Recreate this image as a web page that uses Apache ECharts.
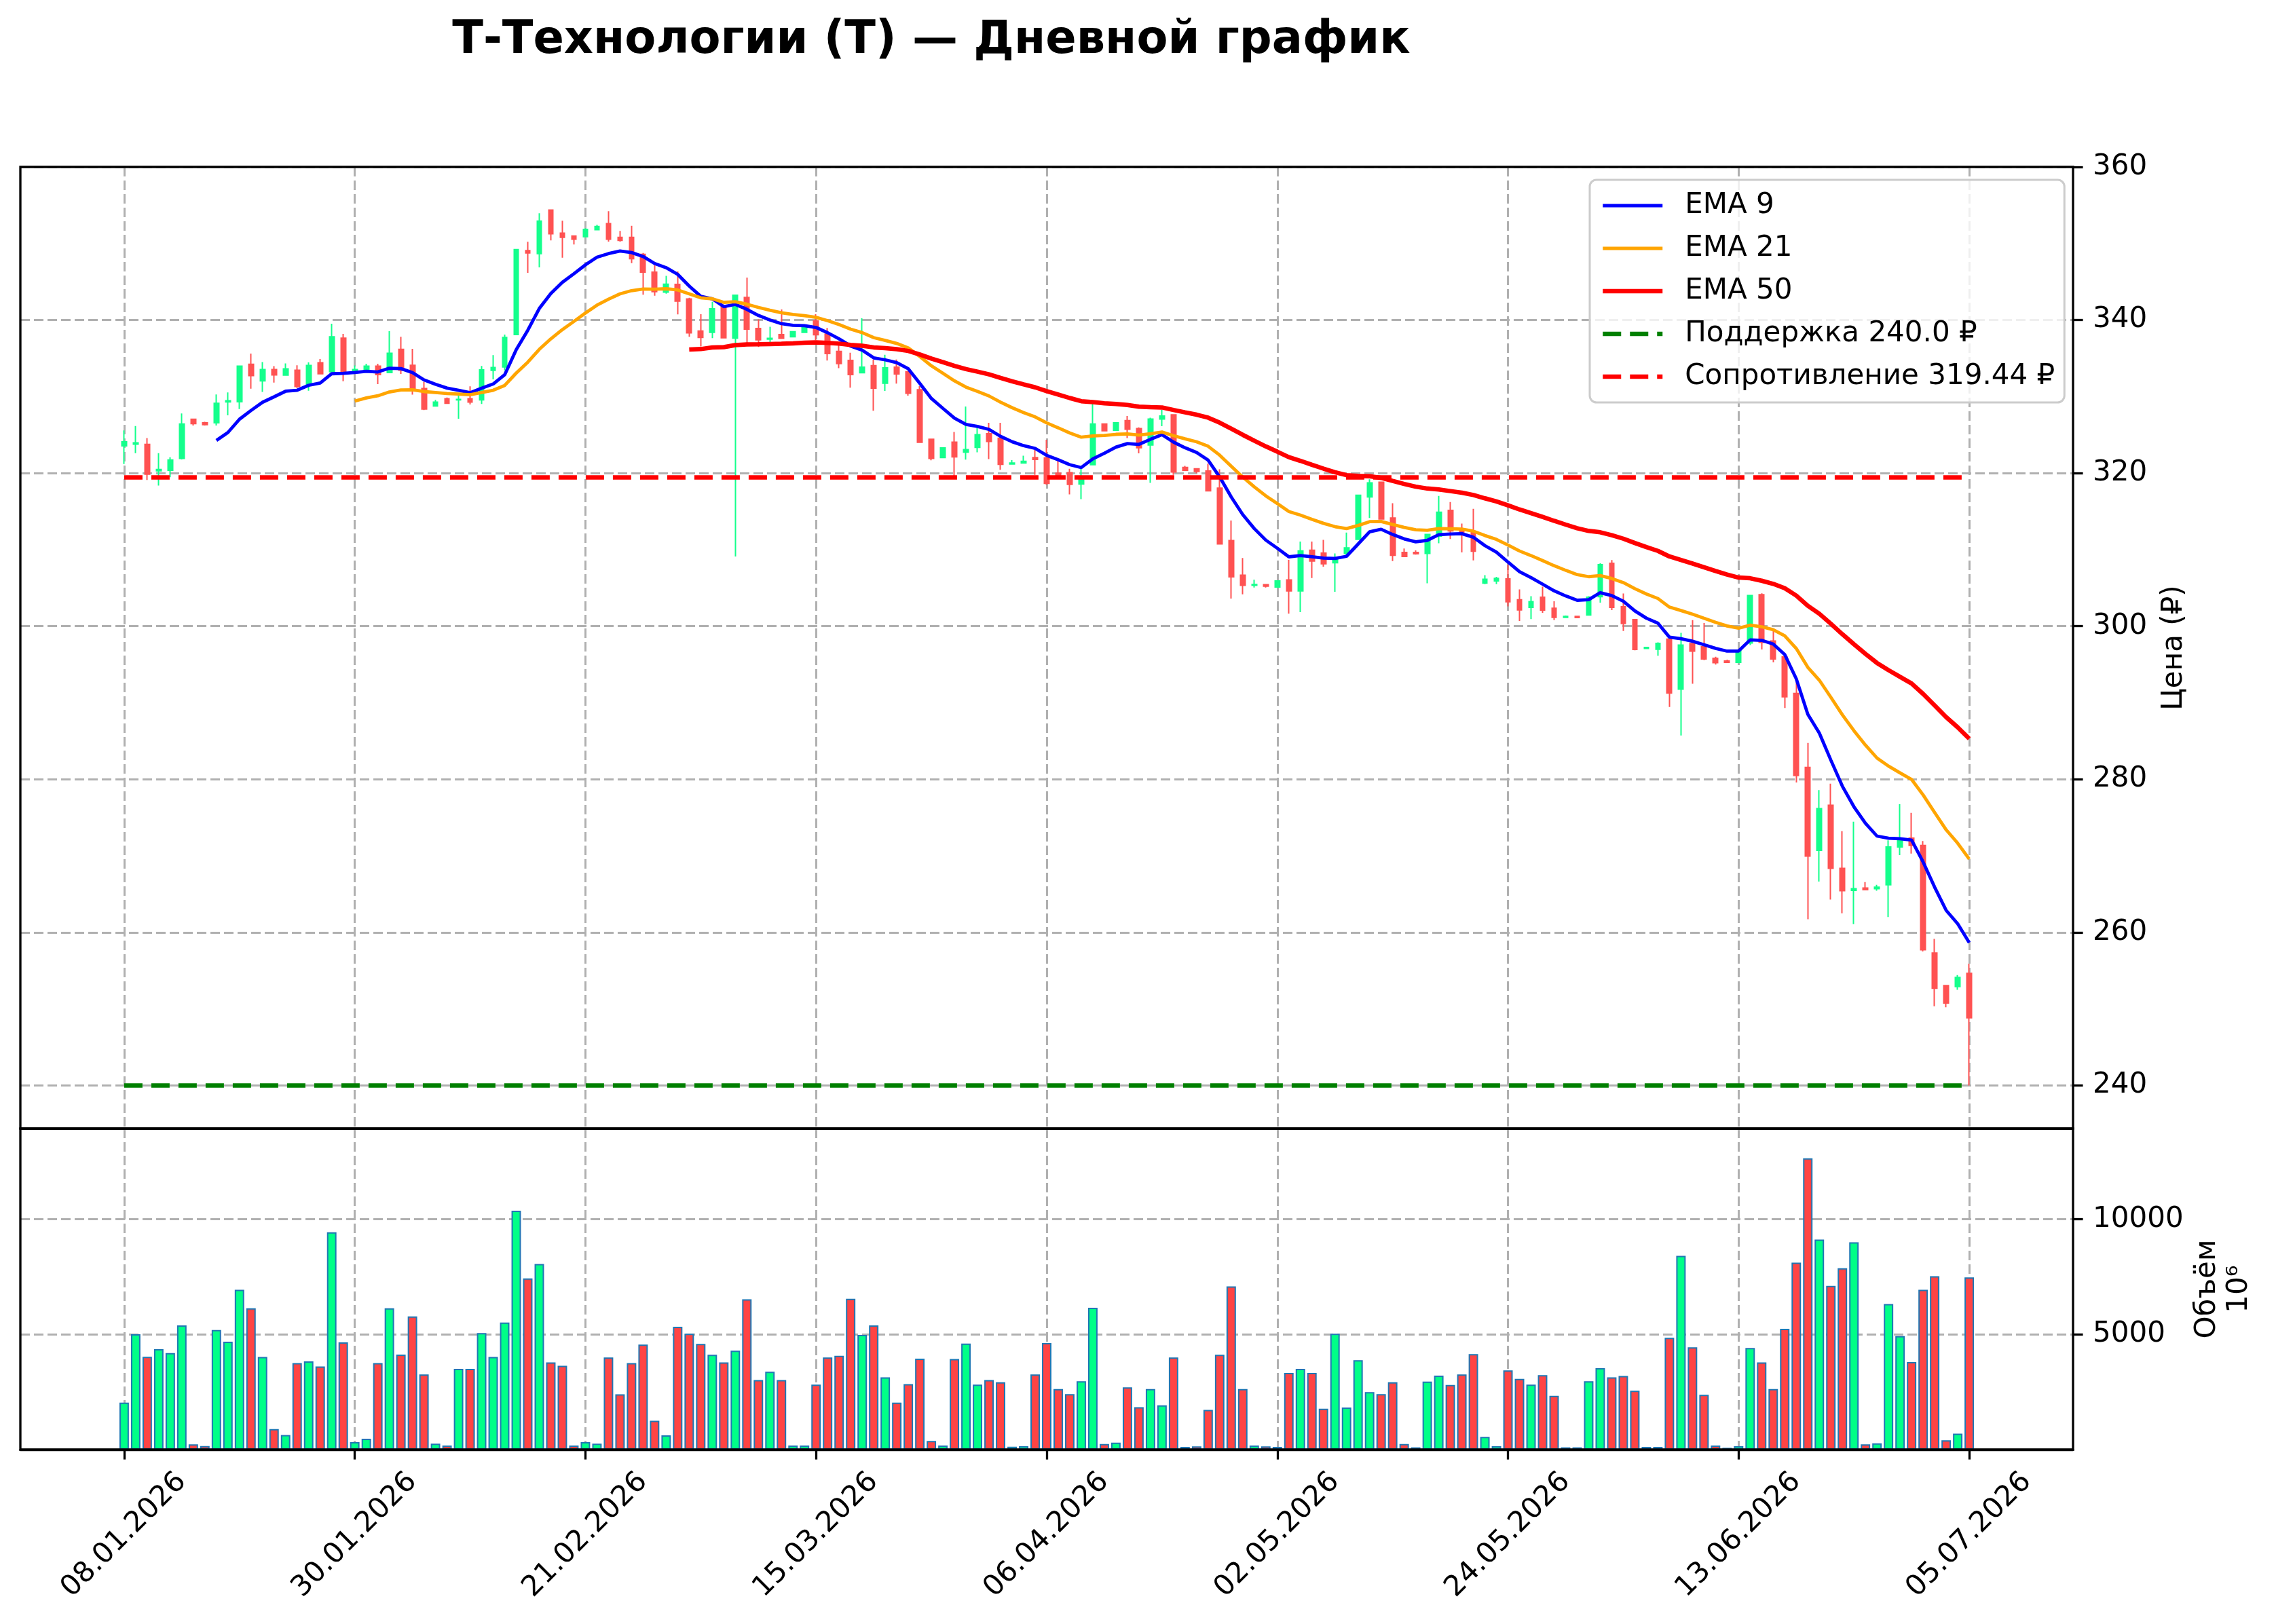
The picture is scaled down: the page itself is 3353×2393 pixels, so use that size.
<!DOCTYPE html>
<html>
<head>
<meta charset="utf-8">
<title>Т-Технологии (T) — Дневной график</title>
<script src="https://cdn.jsdelivr.net/npm/echarts@6/dist/echarts.min.js"></script>
<style>
  html, body { margin: 0; padding: 0; background: #fff; }
  #chart { width: 3353px; height: 2393px; }
</style>
</head>
<body>
<div id="chart"></div>
<script>
// daily bars, one per trading session: [open, close, low, high]
const candles = [
  [323.56, 324.09, 321.18, 325.57], [323.79, 323.97, 322.61, 326.16], [323.76, 319.85, 319.11, 324.59],
  [320.30, 320.47, 318.37, 322.61], [320.36, 321.72, 319.47, 322.07], [321.93, 326.43, 321.78, 327.79],
  [327.05, 326.46, 326.22, 327.05], [326.58, 326.34, 326.22, 326.70], [326.58, 329.13, 326.22, 330.28],
  [329.30, 329.45, 327.56, 330.55], [329.33, 333.98, 328.36, 333.98], [334.22, 332.74, 331.02, 335.61],
  [332.06, 333.54, 330.61, 334.52], [333.54, 332.83, 331.82, 333.98], [332.80, 333.63, 332.71, 334.34],
  [333.45, 331.32, 331.11, 334.10], [331.56, 334.07, 330.76, 334.46], [334.43, 332.98, 332.89, 334.90],
  [333.24, 337.81, 333.24, 339.53], [337.63, 333.27, 332.00, 338.19], [333.33, 333.54, 333.27, 334.07],
  [333.33, 333.98, 333.27, 334.28], [333.98, 332.86, 331.64, 334.28], [333.13, 335.67, 333.13, 338.55],
  [336.18, 333.45, 332.95, 337.81], [334.10, 331.05, 330.25, 336.24], [331.05, 328.38, 328.24, 331.94],
  [328.77, 329.27, 328.68, 329.57], [329.72, 329.13, 329.04, 329.87], [329.57, 329.63, 327.11, 330.46],
  [329.72, 329.27, 328.98, 331.35], [329.57, 333.48, 329.04, 334.01], [333.42, 333.81, 332.24, 335.41],
  [333.87, 337.72, 333.42, 338.10], [338.10, 349.21, 338.10, 349.21], [349.07, 348.77, 346.16, 350.22],
  [348.68, 352.92, 346.87, 353.96], [354.37, 351.26, 350.40, 354.37], [351.35, 350.81, 348.15, 352.98],
  [350.99, 350.55, 349.87, 350.99], [350.90, 351.85, 350.90, 352.00], [351.79, 352.21, 351.79, 352.44],
  [352.59, 350.55, 350.25, 354.22], [350.81, 350.40, 350.25, 351.64], [350.81, 348.00, 347.44, 352.30],
  [348.59, 346.25, 343.32, 348.77], [346.25, 343.70, 343.17, 347.14], [343.64, 344.68, 343.44, 345.78],
  [344.67, 342.46, 340.74, 346.35], [342.75, 338.32, 337.82, 342.90], [338.56, 337.73, 336.55, 340.77],
  [338.38, 341.47, 337.64, 342.39], [341.86, 337.67, 337.67, 341.86], [337.64, 343.24, 309.10, 343.24],
  [342.95, 338.82, 336.99, 345.54], [338.91, 337.41, 336.49, 340.09], [337.50, 337.61, 336.61, 339.12],
  [338.11, 337.61, 337.61, 341.38], [337.82, 338.47, 337.73, 338.47], [338.38, 339.06, 338.38, 339.06],
  [339.88, 338.09, 337.38, 340.77], [338.17, 335.61, 334.70, 338.97], [335.91, 334.31, 333.72, 336.70],
  [334.73, 332.87, 331.16, 335.73], [333.11, 333.84, 333.02, 340.24], [334.05, 331.10, 328.16, 334.84],
  [331.75, 333.75, 330.75, 335.46], [333.84, 332.96, 331.69, 334.84], [333.25, 330.43, 330.13, 333.25],
  [330.90, 324.03, 323.94, 331.37], [324.42, 321.91, 321.68, 324.42], [322.03, 323.30, 321.97, 323.30],
  [324.05, 322.12, 319.26, 325.38], [322.75, 323.08, 321.76, 328.70], [323.37, 325.03, 322.72, 325.98],
  [325.15, 324.14, 321.84, 326.57], [324.56, 321.15, 320.44, 326.57], [321.18, 321.33, 321.18, 321.69],
  [321.33, 321.54, 321.33, 322.28], [322.04, 321.78, 319.76, 323.02], [321.98, 318.67, 318.49, 324.35],
  [320.00, 319.47, 319.47, 321.69], [320.06, 318.52, 317.22, 320.56], [318.58, 319.23, 316.60, 320.65],
  [321.10, 326.42, 321.10, 329.09], [326.42, 325.54, 325.48, 326.48], [325.59, 326.57, 325.59, 326.57],
  [326.87, 325.74, 324.59, 327.46], [325.83, 323.32, 322.58, 325.98], [323.67, 327.07, 318.73, 327.25],
  [327.07, 327.46, 326.13, 328.29], [327.61, 320.15, 319.76, 327.61], [320.74, 320.36, 320.36, 320.95],
  [320.56, 320.21, 320.00, 320.56], [320.27, 317.69, 317.69, 321.24], [318.05, 310.74, 310.74, 320.50],
  [311.19, 306.44, 303.62, 313.80], [306.68, 305.34, 304.16, 308.90], [305.34, 305.46, 305.05, 306.08],
  [305.43, 305.22, 305.05, 305.52], [305.11, 305.91, 305.11, 306.00], [306.06, 304.60, 301.63, 308.67],
  [304.60, 309.85, 301.84, 311.07], [309.94, 308.52, 306.29, 311.07], [309.56, 308.16, 307.78, 311.28],
  [308.28, 308.67, 304.51, 309.50], [309.50, 310.25, 308.96, 312.23], [311.34, 317.12, 311.34, 317.12],
  [316.88, 318.72, 314.15, 319.20], [318.81, 314.01, 314.01, 318.81], [314.15, 309.26, 308.52, 316.08],
  [309.65, 309.11, 309.11, 310.15], [309.65, 309.47, 309.35, 309.91], [309.50, 311.99, 305.61, 312.08],
  [311.78, 314.90, 310.83, 317.03], [315.13, 312.46, 311.40, 316.23], [312.61, 312.23, 309.65, 313.41],
  [312.29, 309.79, 308.61, 315.34], [305.64, 306.14, 305.49, 306.68], [305.91, 306.26, 305.49, 306.44],
  [306.18, 303.20, 302.60, 308.05], [303.45, 302.12, 300.68, 304.80], [302.45, 303.22, 300.94, 303.92],
  [303.78, 302.10, 301.75, 305.17], [302.34, 301.15, 300.80, 303.25], [301.15, 301.29, 301.12, 301.40],
  [301.29, 301.12, 301.05, 301.29], [301.47, 303.78, 301.40, 303.92], [303.85, 308.04, 303.08, 308.22],
  [308.22, 302.45, 302.10, 308.64], [302.55, 300.35, 299.37, 304.27], [300.87, 296.96, 296.85, 300.87],
  [297.10, 297.24, 297.06, 297.24], [296.99, 297.76, 296.15, 297.90], [298.32, 291.26, 289.44, 298.32],
  [291.78, 297.55, 285.73, 299.13], [297.73, 296.75, 292.48, 300.80], [297.31, 295.73, 295.56, 300.42],
  [295.80, 295.24, 295.00, 296.01], [295.45, 295.28, 295.21, 295.63], [295.28, 296.85, 295.17, 296.96],
  [297.80, 304.02, 297.55, 304.02], [304.13, 297.90, 296.96, 304.30], [298.08, 295.73, 295.28, 299.37],
  [296.00, 290.78, 289.32, 296.00], [291.23, 280.50, 279.58, 292.72], [281.55, 269.96, 261.72, 284.76],
  [270.73, 276.18, 266.65, 278.58], [276.61, 268.37, 264.29, 279.44], [268.37, 265.45, 262.49, 273.22],
  [265.49, 265.71, 261.07, 274.46], [265.79, 265.58, 265.58, 266.57], [265.71, 265.92, 265.45, 266.22],
  [266.22, 271.16, 262.02, 272.02], [271.16, 272.02, 270.09, 276.74], [272.32, 271.37, 270.30, 275.62],
  [271.37, 257.73, 257.51, 271.93], [257.30, 252.70, 250.34, 259.14], [253.05, 250.77, 250.21, 253.05],
  [252.92, 254.12, 252.49, 254.42], [254.64, 248.84, 240.00, 255.92]
]

// volume per session, shown in units of 10^6
const volumes = [
  2039, 5010, 4029, 4363, 4196, 5392, 225, 157, 5196, 4686, 6941, 6137, 4020, 892, 637, 3755, 3833, 3608, 9441, 4657,
  324, 471, 3755, 6137, 4127, 5784, 3265, 255, 176, 3510, 3510, 5059, 4020, 5520, 10373, 7431, 8059, 3784, 3637, 176,
  324, 255, 4000, 2402, 3755, 4559, 1255, 618, 5333, 5029, 4588, 4118, 3784, 4294, 6529, 3020, 3382, 3020, 176, 176,
  2824, 4000, 4078, 6549, 4980, 5392, 3137, 2039, 2843, 3951, 373, 176, 3931, 4608, 2824, 3020, 2922, 127, 147, 3265,
  4628, 2627, 2412, 2971, 6157, 245, 304, 2706, 1843, 2627, 1922, 4000, 118, 137, 1725, 4118, 7088, 2627, 176, 137,
  118, 3333, 3510, 3333, 1775, 5029, 1824, 3882, 2500, 2412, 2922, 245, 98, 2951, 3216, 2804, 3265, 4147, 549, 147,
  3441, 3069, 2824, 3235, 2333, 98, 98, 2971, 3539, 3137, 3196, 2559, 118, 118, 4853, 8412, 4441, 2382, 176, 78,
  147, 4412, 3784, 2627, 5245, 8118, 12647, 9118, 7108, 7873, 9000, 225, 275, 6324, 4931, 3804, 6941, 7529, 402, 696,
  7480
]

const tickLabels = ['08.01.2026', '30.01.2026', '21.02.2026', '15.03.2026', '06.04.2026',
  '02.05.2026', '24.05.2026', '13.06.2026', '05.07.2026']
const tickStep = 20
const priceTicks = [240, 260, 280, 300, 320, 340, 360]
const volumeTicks = [5000, 10000]
const emaPeriods = [9, 21, 50]
const emaColors = ['#0000ff', '#ffa500', '#ff0000']
const emaWidths = [4.8, 4.8, 6.5]
const supportLevel = 240.0
const resistanceLevel = 319.44

const FONT = 'DejaVu Sans'
const UP = '#14ff8c'
const DOWN = '#ff5252'
const PAD = 9 // empty slots either side, like the x margins of the original plot
const n = candles.length

const padded = arr => new Array(PAD).fill('-').concat(arr, new Array(PAD).fill('-'))

const categories = []
for (let i = -PAD; i < n + PAD; i++) categories.push(String(i))

const isTick = idx => {
  const i = idx - PAD
  return i >= 0 && i < n && i % tickStep === 0
}

// EMA seeded with the simple average of the first `period` closes
function calcEMA(period) {
  const k = 2 / (period + 1)
  const out = []
  let prev = null
  for (let i = 0; i < n; i++) {
    const close = candles[i][1]
    if (i < period - 1) {
      out.push('-')
    } else if (i === period - 1) {
      let sum = 0
      for (let j = 0; j < period; j++) sum += candles[j][1]
      prev = sum / period
      out.push(+prev.toFixed(3))
    } else {
      prev = close * k + prev * (1 - k)
      out.push(+prev.toFixed(3))
    }
  }
  return out
}

const gridLine = { show: true, lineStyle: { color: '#b0b0b0', width: 3, type: [14, 6] } }
const levelDash = [27, 13]
const plotLeft = 30, plotWidth = 3024
const priceTop = 246, priceHeight = 1417
const volTop = 1663, volHeight = 473

const chart = echarts.init(document.getElementById('chart'))

const emaSeries = emaPeriods.map((p, k) => ({
  name: 'EMA ' + p,
  type: 'line',
  xAxisIndex: 0,
  yAxisIndex: 0,
  data: padded(calcEMA(p)),
  symbol: 'none',
  lineStyle: { color: emaColors[k], width: emaWidths[k] },
  itemStyle: { color: emaColors[k] },
  z: 3
}))

const levelSeries = (name, level, color) => ({
  name: name,
  type: 'line',
  xAxisIndex: 0,
  yAxisIndex: 0,
  data: [[PAD, level], [PAD + n - 1, level]],
  symbol: 'none',
  lineStyle: { color: color, width: 6.5, type: levelDash },
  itemStyle: { color: color },
  z: 4
})

const supportName = 'Поддержка ' + supportLevel.toFixed(1) + ' ₽'
const resistanceName = 'Сопротивление ' + resistanceLevel.toFixed(2) + ' ₽'

const legendItems = emaPeriods.map((p, k) => ({
  name: 'EMA ' + p,
  lineStyle: { width: emaWidths[k], color: emaColors[k], type: 'solid' }
})).concat([
  { name: supportName, lineStyle: { width: 6.5, color: '#008000', type: levelDash } },
  { name: resistanceName, lineStyle: { width: 6.5, color: '#ff0000', type: levelDash } }
])

const option = {
  animation: false,
  backgroundColor: '#ffffff',
  textStyle: { fontFamily: FONT },
  title: {
    text: 'Т-Технологии (T) — Дневной график',
    left: 1372,
    top: 27,
    padding: 0,
    textAlign: 'center',
    textStyle: { fontFamily: FONT, fontSize: 67, fontWeight: 'bold', color: '#000' }
  },
  legend: {
    orient: 'vertical',
    left: 2342,
    top: 265,
    padding: [13, 14, 13, 16],
    itemGap: 13,
    itemWidth: 88,
    itemHeight: 14,
    backgroundColor: 'rgba(255,255,255,0.8)',
    borderColor: '#cccccc',
    borderWidth: 3,
    borderRadius: 10,
    itemStyle: { opacity: 0 },
    textStyle: { fontFamily: FONT, fontSize: 42, lineHeight: 50, color: '#000', padding: [0, 0, 0, 28] },
    data: legendItems
  },
  grid: [
    { left: plotLeft, top: priceTop, width: plotWidth, height: priceHeight, containLabel: false },
    { left: plotLeft, top: volTop, width: plotWidth, height: volHeight, containLabel: false }
  ],
  xAxis: [
    {
      type: 'category', gridIndex: 0, data: categories, boundaryGap: false,
      axisLine: { show: false }, axisTick: { show: false }, axisLabel: { show: false },
      splitLine: Object.assign({ interval: (idx) => isTick(idx) }, gridLine)
    },
    {
      type: 'category', gridIndex: 1, data: categories, boundaryGap: false,
      axisLine: { show: true, lineStyle: { color: '#000', width: 3.3 } },
      axisTick: { show: true, interval: (idx) => isTick(idx), length: 14.6, lineStyle: { color: '#000', width: 3.3 } },
      axisLabel: {
        show: true,
        interval: (idx) => isTick(idx),
        formatter: (value) => tickLabels[Number(value) / tickStep] || '',
        rotate: 45,
        align: 'center',
        verticalAlign: 'middle',
        margin: 126,
        fontFamily: FONT,
        fontSize: 42,
        color: '#000',
        hideOverlap: false
      },
      splitLine: Object.assign({ interval: (idx) => isTick(idx) }, gridLine)
    }
  ],
  yAxis: [
    {
      type: 'value', gridIndex: 0, position: 'right',
      min: 234.37, max: 360, splitNumber: 6, minInterval: 20, maxInterval: 20,
      name: 'Цена (₽)', nameLocation: 'middle', nameRotate: 90, nameGap: 128,
      nameTextStyle: { fontFamily: FONT, fontSize: 42, color: '#000' },
      axisLine: { show: false },
      axisTick: { show: true, customValues: priceTicks, length: 14.6, lineStyle: { color: '#000', width: 3.3 } },
      axisLabel: { customValues: priceTicks, margin: 29, fontFamily: FONT, fontSize: 42, color: '#000' },
      splitLine: gridLine
    },
    {
      type: 'value', gridIndex: 1, position: 'right',
      min: 0, max: 13940, splitNumber: 3, minInterval: 5000, maxInterval: 5000,
      name: 'Объём\n10⁶', nameLocation: 'middle', nameRotate: 90, nameGap: 175,
      nameTextStyle: { fontFamily: FONT, fontSize: 42, lineHeight: 47, color: '#000' },
      axisLine: { show: false },
      axisTick: { show: true, customValues: volumeTicks, length: 14.6, lineStyle: { color: '#000', width: 3.3 } },
      axisLabel: {
        customValues: volumeTicks, margin: 29, fontFamily: FONT, fontSize: 42, color: '#000',
        formatter: (v) => String(v)
      },
      splitLine: gridLine
    }
  ],
  graphic: [
    {
      type: 'rect', z: 100, silent: true,
      shape: { x: plotLeft, y: priceTop, width: plotWidth, height: priceHeight },
      style: { fill: 'none', stroke: '#000', lineWidth: 3.3 }
    },
    {
      type: 'rect', z: 100, silent: true,
      shape: { x: plotLeft, y: volTop, width: plotWidth, height: volHeight },
      style: { fill: 'none', stroke: '#000', lineWidth: 3.3 }
    }
  ],
  series: [
    {
      name: 'Цена',
      type: 'candlestick',
      xAxisIndex: 0,
      yAxisIndex: 0,
      data: padded(candles),
      barWidth: '43%',
      itemStyle: { color: UP, color0: DOWN, borderColor: UP, borderColor0: DOWN, borderWidth: 2 },
      z: 2
    },
    ...emaSeries,
    levelSeries(supportName, supportLevel, '#008000'),
    levelSeries(resistanceName, resistanceLevel, '#ff0000'),
    {
      name: 'Объём',
      type: 'bar',
      xAxisIndex: 1,
      yAxisIndex: 1,
      barWidth: '82%',
      data: padded(volumes.map((v, i) => ({
        value: v,
        itemStyle: { color: candles[i][1] >= candles[i][0] ? '#00ff88' : '#ff4444' }
      }))),
      itemStyle: { borderColor: '#1f77b4', borderWidth: 2 }
    }
  ]
}

chart.setOption(option)
</script>
</body>
</html>
